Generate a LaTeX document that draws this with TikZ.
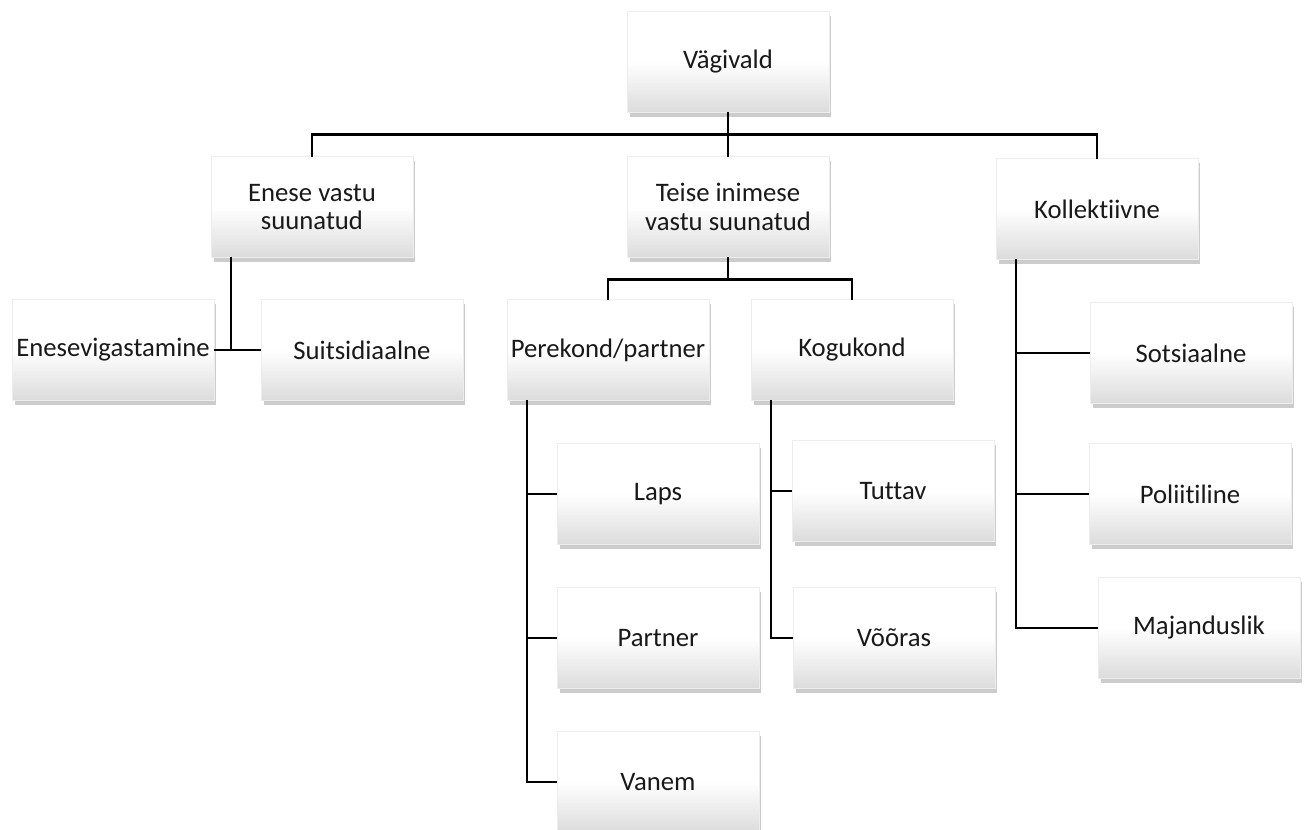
\documentclass[tikz,border=0pt]{standalone}
\usepackage{fontspec}
\setmainfont{Carlito}[Ligatures=NoCommon]
\usetikzlibrary{shadows}
\definecolor{boxbottomcolor}{gray}{0.86}
\definecolor{labelcolor}{gray}{0.1}

\begin{document}
\begin{tikzpicture}[
	x=0.02cm, y=-0.02cm,
	catbox/.style={top color=white, bottom color=boxbottomcolor, middle color=white,
		draw=black!7, line width=0.3pt, minimum width=4.04cm, minimum height=2.02cm,
		inner sep=2pt, align=center, text=labelcolor,
		drop shadow={shadow xshift=0.5mm, shadow yshift=-0.9mm, opacity=0.4}},
	every node/.style={outer sep=0pt, font=\fontsize{15.2}{16.2}\selectfont},
	link/.style={line width=1.6pt, black},
]
\useasboundingbox (0,0) rectangle (1309,830);
% Input 1: position, input 2: name, input 3: text.
\def\catbox[#1](#2)#3{
	\node[catbox, #1] (#2) {#3};
}
% \connectbar{parent}{child}: down to the bar, then across to the child.
\def\connectbar#1#2{
	\draw[link] (#1.south) -- ++(0,22) -| (#2.north);
}
% \connectside{parent}{child}: spine on the left, branch into the child.
\def\connectside#1#2{
	\draw[link] ([xshift=4mm]#1.south west) |- (#2.west);
}
	\catbox[at={(728,62)}](V){Vägivald}
	\catbox[at={(312,207)}](E){Enese vastu\\suunatud}
	\catbox[at={(728,207)}](T){Teise inimese\\vastu suunatud}
	\catbox[at={(1097,209)}](K){Kollektiivne}
	\connectbar{V}{E}
	\connectbar{V}{K}
	\draw[link] (V.south) -- (T.north);

	\catbox[at={(113,350)}](EV){Enesevigastamine}
	\catbox[at={(362,350)}](S){Suitsidiaalne}
	\draw[link] ([xshift=4mm]E.south west) |- (EV.east);
	\draw[link] (EV.east) -- (S.west);

	\catbox[at={(608,350)}](PP){Perekond/partner}
	\catbox[at={(852,350)}](KG){Kogukond}
	\connectbar{T}{PP}
	\connectbar{T}{KG}

	\catbox[at={(658,494)}](L){Laps}
	\catbox[at={(658,638)}](PA){Partner}
	\catbox[at={(658,782)}](VA){Vanem}
	\connectside{PP}{L}
	\connectside{PP}{PA}
	\connectside{PP}{VA}

	\catbox[at={(893,491)}](TU){Tuttav}
	\catbox[at={(894,638)}](VO){Võõras}
	\connectside{KG}{TU}
	\connectside{KG}{VO}

	\catbox[at={(1191,353)}](SO){Sotsiaalne}
	\catbox[at={(1190,494)}](PO){Poliitiline}
	\catbox[at={(1199,628)}](MA){Majanduslik}
	\connectside{K}{SO}
	\connectside{K}{PO}
	\connectside{K}{MA}
\end{tikzpicture}
\end{document}
